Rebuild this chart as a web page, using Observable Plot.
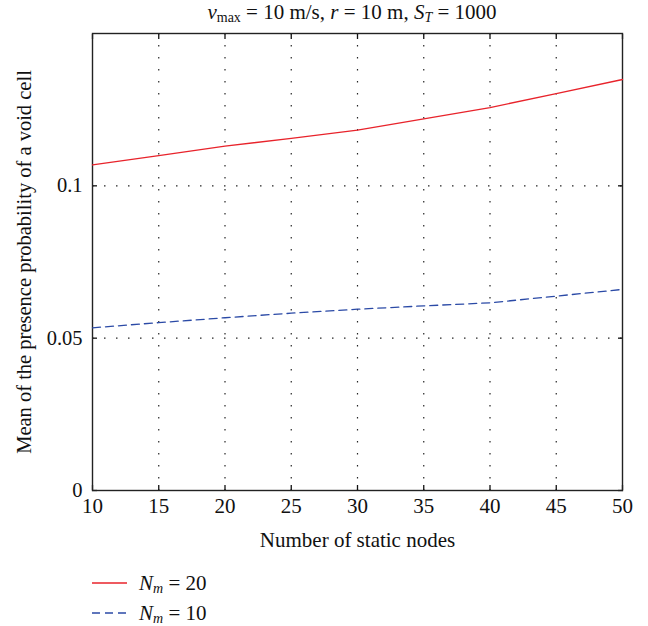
<!DOCTYPE html>
<html><head><meta charset="utf-8">
<script src="https://cdn.jsdelivr.net/npm/d3@7"></script>
<script src="https://cdn.jsdelivr.net/npm/@observablehq/plot@0.6"></script>
<style>
body{margin:0;background:#fff;font-family:"Liberation Serif",serif;color:#111;}
#wrap{position:relative;width:648px;height:626px;overflow:hidden;}
#chart{position:absolute;left:0;top:0;}
#title{position:absolute;top:0px;left:92px;width:520px;text-align:center;font-size:21px;white-space:nowrap;}
#legend{position:absolute;left:92px;top:568px;font-size:21px;}
.row{display:flex;align-items:center;height:30px;}
.row svg{margin-right:12px;}
sub{font-size:14px;vertical-align:-3px;line-height:0;}
#title sub{font-size:14px;}
</style></head>
<body>
<div id="wrap">
  <div id="chart"></div>
  <div id="title"><i>v</i><sub>max</sub> = 10 m/s, <i>r</i> = 10 m, <i>S<sub>T</sub></i> = 1000</div>
  <div id="legend"></div>
</div>
<script>
const staticNodes = [10, 15, 20, 25, 30, 35, 40, 45, 50];
const meanNm20 = [0.1069, 0.1099, 0.1130, 0.1156, 0.1183, 0.1220, 0.1257, 0.1303, 0.1349];
const meanNm10 = [0.0534, 0.0551, 0.0567, 0.0582, 0.0595, 0.0606, 0.0616, 0.0638, 0.0660];
const xTicks = [10, 15, 20, 25, 30, 35, 40, 45, 50];
const yTicks = [0, 0.05, 0.1];
const xGrid = [15, 20, 25, 30, 35, 40, 45];
const yGrid = [0.05, 0.1];
const seriesNames = ["N_m = 20", "N_m = 10"];
const colors = ["#e8232b", "#2b4aa6"];
const dashes = [null, "8,5"];

const d20 = staticNodes.map((x, i) => ({x, y: meanNm20[i]}));
const d10 = staticNodes.map((x, i) => ({x, y: meanNm10[i]}));

const gridStyle = {stroke: "#000", strokeOpacity: 0.85, strokeDasharray: "1.5,10.5", strokeWidth: 1.2};

const plot = Plot.plot({
  width: 648,
  height: 560,
  marginLeft: 92,
  marginRight: 26,
  marginTop: 33,
  marginBottom: 70,
  style: {fontSize: "20px", fontFamily: "Liberation Serif, serif", color: "#111", background: "#fff"},
  x: {domain: [10, 50]},
  y: {domain: [0, 0.15]},
  marks: [
    Plot.gridX(xGrid, gridStyle),
    Plot.gridY(yGrid, gridStyle),
    Plot.axisX(xTicks, {anchor: "bottom", tickSize: 0, tickPadding: 8, tickFormat: d => String(d),
      label: "Number of static nodes", labelAnchor: "center", labelOffset: 56, labelArrow: "none", fontSize: 21}),
    Plot.axisX(xTicks, {anchor: "bottom", tickSize: -5, tickFormat: () => "", label: null, strokeWidth: 1.3}),
    Plot.axisX(xTicks, {anchor: "top", tickSize: -5, tickFormat: () => "", label: null, strokeWidth: 1.3}),
    Plot.axisY(yTicks, {anchor: "left", tickSize: 0, tickPadding: 10, tickFormat: d => String(d),
      label: "Mean of the presence probability of a void cell", labelAnchor: "center", labelOffset: 76, labelArrow: "none", fontSize: 20.5}),
    Plot.axisY(yTicks, {anchor: "left", tickSize: -5, tickFormat: () => "", label: null, strokeWidth: 1.3}),
    Plot.axisY(yTicks, {anchor: "right", tickSize: -5, tickFormat: () => "", label: null, strokeWidth: 1.3}),
    Plot.frame({stroke: "#222", strokeWidth: 1.4}),
    Plot.line(d20, {x: "x", y: "y", stroke: colors[0], strokeWidth: 1.3}),
    Plot.line(d10, {x: "x", y: "y", stroke: colors[1], strokeWidth: 1.3, strokeDasharray: dashes[1]})
  ]
});
document.getElementById("chart").appendChild(plot);

const legend = document.getElementById("legend");
seriesNames.forEach((name, i) => {
  const row = document.createElement("div");
  row.className = "row";
  const [lhs, rhs] = name.split(" = ");
  const sym = lhs.split("_");
  row.innerHTML = `<svg width="35" height="10"><line x1="0" x2="35" y1="5" y2="5" stroke="${colors[i]}" stroke-width="1.3" ${dashes[i] ? `stroke-dasharray="${dashes[i]}"` : ""}/></svg><span><i>${sym[0]}<sub>${sym[1]}</sub></i> = ${rhs}</span>`;
  legend.appendChild(row);
});
</script>
</body></html>
